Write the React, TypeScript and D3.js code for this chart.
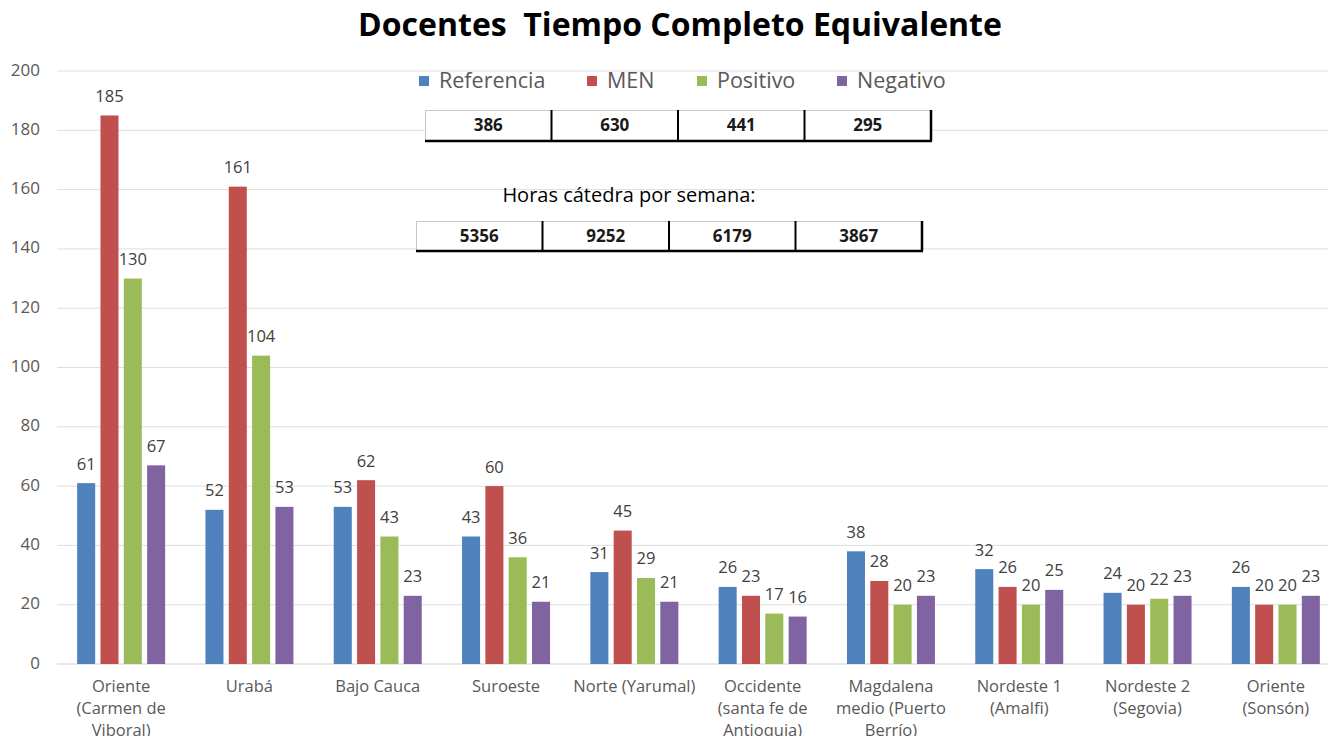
import React from "react";
import * as d3 from "d3";

const categories = [
  "Oriente\n(Carmen de\nViboral)",
  "Urabá",
  "Bajo Cauca",
  "Suroeste",
  "Norte (Yarumal)",
  "Occidente\n(santa fe de\nAntioquia)",
  "Magdalena\nmedio (Puerto\nBerrío)",
  "Nordeste 1\n(Amalfi)",
  "Nordeste 2\n(Segovia)",
  "Oriente\n(Sonsón)",
];
const seriesNames = ["Referencia", "MEN", "Positivo", "Negativo"];
const referencia = [61, 52, 53, 43, 31, 26, 38, 32, 24, 26];
const men = [185, 161, 62, 60, 45, 23, 28, 26, 20, 20];
const positivo = [130, 104, 43, 36, 29, 17, 20, 20, 22, 20];
const negativo = [67, 53, 23, 21, 21, 16, 23, 25, 23, 23];
const colors = ["#4F81BD", "#C0504D", "#9BBB59", "#8064A2"];
const yTicks = [0, 20, 40, 60, 80, 100, 120, 140, 160, 180, 200];
const totalsTce = ["386", "630", "441", "295"];
const totalsHoras = ["5356", "9252", "6179", "3867"];

const W = 1328;
const H = 736;
const FONT = "'Open Sans', 'Noto Sans', sans-serif";

function Table({ x, y, w, h, values }: { x: number; y: number; w: number; h: number; values: string[] }) {
  const cw = w / values.length;
  return (
    <g>
      <rect x={x} y={y} width={w} height={h} fill="#fff" />
      <line x1={x} x2={x + w} y1={y + 0.5} y2={y + 0.5} stroke="#c8c8c8" strokeWidth={1} />
      <line x1={x + 0.5} x2={x + 0.5} y1={y} y2={y + h} stroke="#c8c8c8" strokeWidth={1} />
      {values.map((v, i) => (
        <g key={i}>
          <line x1={x + cw * (i + 1)} x2={x + cw * (i + 1)} y1={y} y2={y + h} stroke="#000" strokeWidth={i === values.length - 1 ? 2.5 : 2} />
          <text x={x + cw * i + cw / 2} y={y + h / 2 + 1} textAnchor="middle" dominantBaseline="middle" fontFamily={FONT} fontWeight="bold" fontSize={17} fill="#1a1a1a">
            {v}
          </text>
        </g>
      ))}
      <line x1={x} x2={x + w + 1} y1={y + h} y2={y + h} stroke="#000" strokeWidth={2.5} />
    </g>
  );
}

export default function App() {
  const series = [referencia, men, positivo, negativo];
  const y = d3.scaleLinear().domain([0, 200]).range([664, 71]);
  const x0 = d3.scaleBand<string>().domain(categories).range([57, 1340]).padding(0);
  const groupW = 88;
  const x1 = d3.scaleBand<string>().domain(seriesNames).range([0, groupW]).paddingInner(0.227).paddingOuter(0);
  const off = (x0.bandwidth() - groupW) / 2;

  const legendX = [419, 587, 697, 837];

  return (
    <svg width={W} height={H} style={{ position: "fixed", left: 0, top: 0, background: "#fff" }}>
      <rect width={W} height={H} fill="#fff" />
      {yTicks.map((t) => (
        <g key={t}>
          <line x1={57} x2={W} y1={y(t)} y2={y(t)} stroke={t === 0 ? "#d0d0d0" : "#dedede"} strokeWidth={1} />
          <text x={40} y={y(t)} textAnchor="end" dominantBaseline="middle" fontFamily={FONT} fontSize={17} fill="#595959">
            {t}
          </text>
        </g>
      ))}
      {categories.map((c, ci) => (
        <g key={c}>
          {series.map((s, si) => {
            const bx = (x0(c) as number) + off + (x1(seriesNames[si]) as number);
            return (
              <g key={si}>
                <rect x={bx} y={y(s[ci])} width={x1.bandwidth()} height={y(0) - y(s[ci])} fill={colors[si]} />
                <text x={bx + x1.bandwidth() / 2} y={y(s[ci]) - 18} textAnchor="middle" dominantBaseline="middle" fontFamily={FONT} fontSize={16.5} fill="#404040">
                  {s[ci]}
                </text>
              </g>
            );
          })}
          {c.split("\n").map((line, li) => (
            <text key={li} x={(x0(c) as number) + x0.bandwidth() / 2} y={688 + li * 22} textAnchor="middle" dominantBaseline="middle" fontFamily={FONT} fontSize={16.5} fill="#595959">
              {line}
            </text>
          ))}
        </g>
      ))}
      <text x={680} y={27} textAnchor="middle" dominantBaseline="middle" fontFamily={FONT} fontWeight="bold" fontSize={32} fill="#000" style={{ whiteSpace: "pre" }}>
        {"Docentes  Tiempo Completo Equivalente"}
      </text>
      {seriesNames.map((n, i) => (
        <g key={n}>
          <rect x={legendX[i]} y={76} width={10} height={10} fill={colors[i]} />
          <text x={legendX[i] + 20} y={82} dominantBaseline="middle" fontFamily={FONT} fontSize={21.5} fill="#595959">
            {n}
          </text>
        </g>
      ))}
      <Table x={425} y={110} w={506} h={31} values={totalsTce} />
      <text x={629} y={197} textAnchor="middle" dominantBaseline="middle" fontFamily={FONT} fontSize={20} fill="#000">
        Horas cátedra por semana:
      </text>
      <Table x={416} y={221} w={506} h={30} values={totalsHoras} />
    </svg>
  );
}
